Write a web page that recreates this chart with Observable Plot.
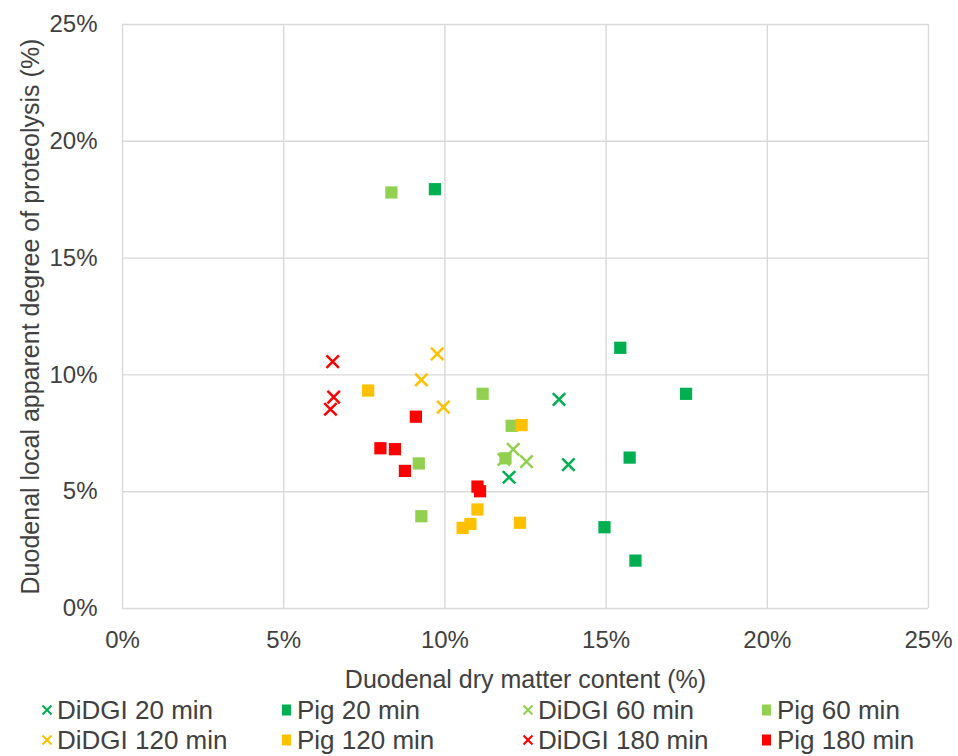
<!DOCTYPE html>
<html>
<head>
<meta charset="utf-8">
<script src="https://cdn.jsdelivr.net/npm/d3@7"></script>
<script src="https://cdn.jsdelivr.net/npm/@observablehq/plot@0.6"></script>
<style>
  html, body { margin: 0; padding: 0; background: #fff; }
  #wrap { position: relative; width: 958px; height: 756px; font-family: "Liberation Sans", Arial, sans-serif; color: #404040; }
  #legend { position: absolute; left: 0; top: 695px; width: 958px; height: 61px; }
  .item { position: absolute; font-size: 26px; line-height: 30px; white-space: nowrap; display: flex; align-items: center; }
  .item svg { margin-right: 3px; }
</style>
</head>
<body>
<div id="wrap">
  <div id="chart"></div>
  <div id="legend"></div>
</div>
<script>
// Series names and colours
const seriesNames = ["DiDGI 20 min", "Pig 20 min", "DiDGI 60 min", "Pig 60 min",
                     "DiDGI 120 min", "Pig 120 min", "DiDGI 180 min", "Pig 180 min"];
const seriesColors = ["#00B050", "#00B050", "#92D050", "#92D050",
                      "#FFC000", "#FFC000", "#FF0000", "#FF0000"];
const seriesSymbols = ["times", "square", "times", "square", "times", "square", "times", "square"];

// Values (fractions): dry matter content (x), apparent degree of proteolysis (y)
const didgi20X = [0.1354, 0.1383, 0.1199];
const didgi20Y = [0.0895, 0.0616, 0.0562];
const pig20X = [0.0969, 0.1544, 0.1748, 0.1573, 0.1495, 0.1591];
const pig20Y = [0.1795, 0.1116, 0.0919, 0.0646, 0.0348, 0.0205];
const didgi60X = [0.1212, 0.1253, 0.1183];
const didgi60Y = [0.0681, 0.0629, 0.0638];
const pig60X = [0.0834, 0.1117, 0.1207, 0.0919, 0.1188, 0.0927];
const pig60Y = [0.1781, 0.0919, 0.0782, 0.0621, 0.0643, 0.0395];
const didgi120X = [0.0976, 0.0927, 0.0995];
const didgi120Y = [0.1090, 0.0979, 0.0862];
const pig120X = [0.0762, 0.1238, 0.1101, 0.1079, 0.1055, 0.1233];
const pig120Y = [0.0933, 0.0785, 0.0424, 0.0362, 0.0345, 0.0367];
const didgi180X = [0.0652, 0.0655, 0.0645];
const didgi180Y = [0.1057, 0.0905, 0.0853];
const pig180X = [0.0910, 0.0800, 0.0845, 0.0876, 0.1101, 0.1109];
const pig180Y = [0.0821, 0.0686, 0.0682, 0.0589, 0.0522, 0.0502];

const seriesX = [didgi20X, pig20X, didgi60X, pig60X, didgi120X, pig120X, didgi180X, pig180X];
const seriesY = [didgi20Y, pig20Y, didgi60Y, pig60Y, didgi120Y, pig120Y, didgi180Y, pig180Y];

const tickValues = [0, 0.05, 0.10, 0.15, 0.20, 0.25];
const xTitle = "Duodenal dry matter content (%)";
const yTitle = "Duodenal local apparent degree of proteolysis (%)";

const rows = [];
seriesNames.forEach((name, i) => {
  seriesX[i].forEach((x, j) => rows.push({series: name, x, y: seriesY[i][j], sym: seriesSymbols[i]}));
});
const squares = rows.filter(d => d.sym === "square");
const crosses = rows.filter(d => d.sym === "times");

const fmt = d3.format(".0%");
const colorScale = {domain: seriesNames, range: seriesColors};

const chart = Plot.plot({
  width: 958,
  height: 700,
  marginTop: 24,
  marginLeft: 122,
  marginRight: 30,
  marginBottom: 92,
  style: {fontFamily: "Liberation Sans, Arial, sans-serif", fontSize: "24px", color: "#404040", background: "#fff"},
  x: {domain: [0, 0.25], ticks: tickValues, tickFormat: fmt, label: null},
  y: {domain: [0, 0.25], ticks: tickValues, tickFormat: fmt, label: null},
  color: colorScale,
  marks: [
    Plot.gridX(tickValues, {stroke: "#d9d9d9", strokeOpacity: 1, strokeWidth: 1.4}),
    Plot.gridY(tickValues, {stroke: "#d9d9d9", strokeOpacity: 1, strokeWidth: 1.4}),
    Plot.axisX({ticks: tickValues, tickFormat: fmt, tickSize: 0, tickPadding: 22, fontSize: 24, fill: "#404040"}),
    Plot.axisY({ticks: tickValues, tickFormat: fmt, tickSize: 0, tickPadding: 25, fontSize: 24, fill: "#404040"}),
    Plot.dot(squares, {x: "x", y: "y", fill: "series", symbol: "square", r: 6.9, stroke: "none"}),
    Plot.dot(crosses, {x: "x", y: "y", stroke: "series", symbol: "times", r: 5.7, strokeWidth: 2.5}),
    Plot.text([xTitle], {frameAnchor: "bottom", dy: 79, fontSize: 25, fill: "#404040"}),
    Plot.text([yTitle], {frameAnchor: "left", textAnchor: "middle", rotate: -90, dx: -92, fontSize: 25, fill: "#404040"})
  ]
});
document.getElementById("chart").appendChild(chart);

// Legend
const legendPos = [[40, 0], [280, 0], [521, 0], [760, 0], [40, 30], [280, 30], [521, 30], [760, 30]];
const legend = document.getElementById("legend");
seriesNames.forEach((name, i) => {
  const div = document.createElement("div");
  div.className = "item";
  div.style.left = legendPos[i][0] + "px";
  div.style.top = legendPos[i][1] + "px";
  const c = seriesColors[i];
  const icon = seriesSymbols[i] === "square"
    ? `<svg width="14" height="14"><rect x="2" y="1.5" width="9" height="11" fill="${c}"/></svg>`
    : `<svg width="14" height="14"><path d="M2.5,2.5L11.5,11.5M11.5,2.5L2.5,11.5" stroke="${c}" stroke-width="2"/></svg>`;
  div.innerHTML = icon + `<span>${name}</span>`;
  legend.appendChild(div);
});
</script>
</body>
</html>
